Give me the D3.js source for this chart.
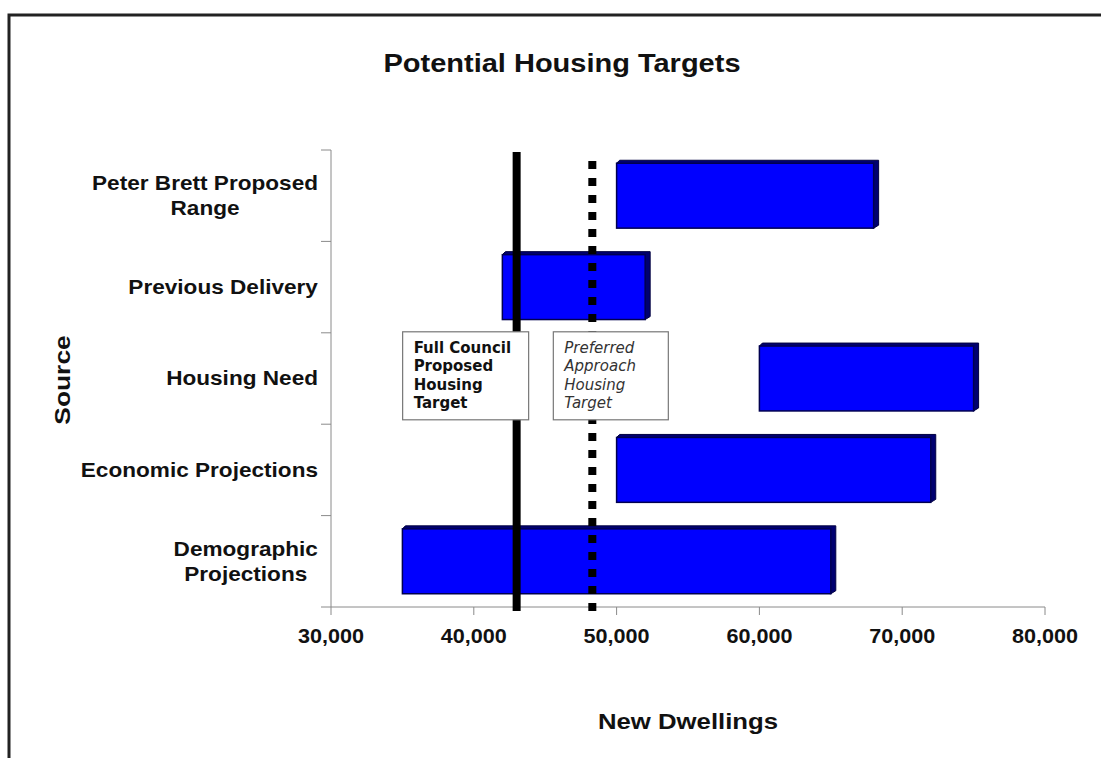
<!DOCTYPE html>
<html>
<head>
<meta charset="utf-8">
<script src="https://cdn.jsdelivr.net/npm/d3@7"></script>
<style>
  body { margin: 0; background: #fff; }
  text { font-family: "Liberation Sans", Arial, sans-serif; }
</style>
</head>
<body>
<div id="chart"></div>
<script>
// data
const categories = ["Peter Brett Proposed Range", "Previous Delivery", "Housing Need", "Economic Projections", "Demographic Projections"];
const labelLines = [["Peter Brett Proposed", "Range"], ["Previous Delivery"], ["Housing Need"], ["Economic Projections"], ["Demographic", "Projections"]];
const rangeLow = [50000, 42000, 60000, 50000, 35000];
const rangeHigh = [68000, 52000, 75000, 72000, 65000];
const xTicks = [30000, 40000, 50000, 60000, 70000, 80000];
const councilTarget = 43000;
const preferredTarget = 48300;

const W = 1101, H = 758;
const svg = d3.select("#chart").append("svg")
  .attr("width", W)
  .attr("height", H);

// frame (only top and left visible)
svg.append("path")
  .attr("d", `M9,${H} L9,15 L${W},15`)
  .attr("fill", "none")
  .attr("stroke", "#222")
  .attr("stroke-width", 3);

const x = d3.scaleLinear().domain([30000, 80000]).range([331, 1045]);
const y = d3.scaleBand().domain(categories).range([150, 607])
  .paddingInner(0.29).paddingOuter(0.145);

// the original text is a bit wider than Arial, so stretch it sideways
function wideText(parent, px, py, size, sx, str) {
  return parent.append("text")
    .attr("transform", `translate(${px},${py}) scale(${sx},1)`)
    .attr("text-anchor", "middle")
    .style("font-size", size + "px")
    .style("font-weight", "bold")
    .style("fill", "#111")
    .text(str);
}

// axes
const axisColor = "#8a8a8a";
svg.append("line")
  .attr("x1", x(30000)).attr("x2", x(80000))
  .attr("y1", 607).attr("y2", 607)
  .attr("stroke", axisColor);
svg.append("line")
  .attr("x1", x(30000)).attr("x2", x(30000))
  .attr("y1", 150).attr("y2", 607)
  .attr("stroke", axisColor);

// y ticks at band boundaries
const bandStart = c => y(c) - y.step() * y.paddingOuter();
const bounds = categories.map(bandStart).concat([607]);
svg.append("g").selectAll("line")
  .data(bounds)
  .join("line")
  .attr("x1", 321).attr("x2", 331)
  .attr("y1", d => d).attr("y2", d => d)
  .attr("stroke", axisColor);

// x ticks
svg.append("g").selectAll("line")
  .data(xTicks)
  .join("line")
  .attr("x1", d => x(d)).attr("x2", d => x(d))
  .attr("y1", 607).attr("y2", 615)
  .attr("stroke", axisColor);

const tickG = svg.append("g");
xTicks.forEach(d => wideText(tickG, x(d), 643, 20, 1.08, d3.format(",")(d)));

// category labels
const sxCat = 1.13;
categories.forEach((c, i) => {
  const lines = labelLines[i];
  const cy = y(c) + y.bandwidth() / 2;
  const lh = 25;
  const g = svg.append("g").attr("transform", `translate(318,0) scale(${sxCat},1)`);
  const t = g.append("text")
    .attr("text-anchor", "middle")
    .style("font-size", "20px")
    .style("font-weight", "bold")
    .style("fill", "#111");
  lines.forEach((ln, j) => {
    t.append("tspan")
      .attr("x", 0)
      .attr("y", cy + 7 + (j - (lines.length - 1) / 2) * lh)
      .text(ln);
  });
  // right-align the block
  const w = t.node().getBBox().width;
  t.selectAll("tspan").attr("x", -w / 2);
});

// bars with a small 3D depth
const dx = 5, dy = 3;
const bars = svg.append("g").selectAll("g")
  .data(categories)
  .join("g");
bars.append("path")
  .attr("d", (c, i) => {
    const x0 = x(rangeLow[i]), x1 = x(rangeHigh[i]);
    const y0 = y(c), y1 = y(c) + y.bandwidth();
    return `M${x0},${y0} L${x0 + dy},${y0 - dy} L${x1 + dx},${y0 - dy} L${x1 + dx},${y1 - dy} L${x1},${y1} Z`;
  })
  .attr("fill", "#000070")
  .attr("stroke", "#000040")
  .attr("stroke-width", 1);
bars.append("rect")
  .attr("x", (c, i) => x(rangeLow[i]))
  .attr("y", c => y(c))
  .attr("width", (c, i) => x(rangeHigh[i]) - x(rangeLow[i]))
  .attr("height", y.bandwidth())
  .attr("fill", "#0000ff")
  .attr("stroke", "#000050")
  .attr("stroke-width", 1.5);

// target lines
svg.append("line")
  .attr("x1", x(councilTarget)).attr("x2", x(councilTarget))
  .attr("y1", 152).attr("y2", 611)
  .attr("stroke", "#000")
  .attr("stroke-width", 8);
svg.append("line")
  .attr("x1", x(preferredTarget)).attr("x2", x(preferredTarget))
  .attr("y1", 161).attr("y2", 611)
  .attr("stroke", "#000")
  .attr("stroke-width", 8)
  .attr("stroke-dasharray", "8,9");

// annotation boxes
const boxes = [
  {x0: x(councilTarget) - 114, w: 126, lines: ["Full Council", "Proposed", "Housing", "Target"], weight: "bold", styleF: "normal"},
  {x0: x(preferredTarget) - 39, w: 115, lines: ["Preferred", "Approach", "Housing", "Target"], weight: "normal", styleF: "italic"}
];
const boxTop = bandStart("Housing Need") - 1;
boxes.forEach(b => {
  svg.append("rect")
    .attr("x", b.x0).attr("y", boxTop)
    .attr("width", b.w).attr("height", 88)
    .attr("fill", "#fff")
    .attr("stroke", "#777")
    .attr("stroke-width", 1.2);
  const t = svg.append("text")
    .style("font-family", "'DejaVu Sans', Verdana, sans-serif")
    .style("font-size", "15px")
    .style("font-weight", b.weight)
    .style("font-style", b.styleF)
    .style("fill", b.weight === "bold" ? "#111" : "#333");
  b.lines.forEach((ln, j) => {
    t.append("tspan")
      .attr("x", b.x0 + 11)
      .attr("y", boxTop + 21 + j * 18.5)
      .text(ln);
  });
});

// titles
wideText(svg, 562, 72, 25, 1.16, "Potential Housing Targets");
wideText(svg, 688, 729, 22, 1.17, "New Dwellings");
svg.append("text")
  .attr("transform", "translate(70,380) rotate(-90) scale(1.2,1)")
  .attr("text-anchor", "middle")
  .style("font-size", "22px")
  .style("font-weight", "bold")
  .style("fill", "#111")
  .text("Source");
</script>
</body>
</html>
